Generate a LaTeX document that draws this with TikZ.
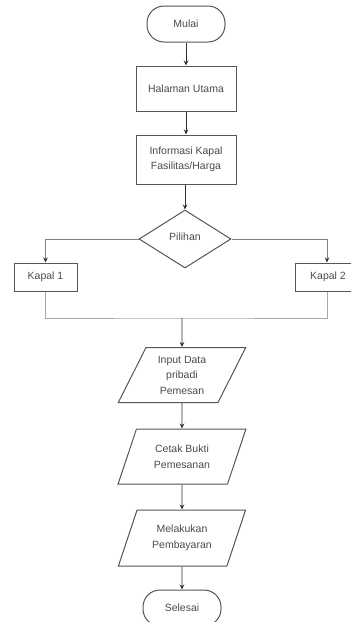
\documentclass[tikz,border=0pt]{standalone}
\usepackage{fontspec}
\setmainfont{Liberation Sans}
\usetikzlibrary{shapes.geometric,arrows.meta}
\definecolor{txt}{HTML}{4A4A4A}
\definecolor{edge}{HTML}{555555}
\definecolor{arr}{HTML}{303030}
\definecolor{lite}{HTML}{A8A8A8}
\definecolor{mid}{HTML}{808080}
\begin{document}
\begin{tikzpicture}[x=1pt,y=-1pt,
  base/.style={draw=edge,line width=1pt,text=txt,font=\fontsize{10.5}{15.5}\selectfont,align=center,inner sep=0pt},
  term/.style={base,rectangle,rounded corners=17pt,minimum width=78pt,minimum height=36pt},
  proc/.style={base,rectangle,minimum width=100pt},
  choice/.style={base,diamond,minimum width=92pt,minimum height=58pt},
  kbox/.style={base,rectangle,minimum height=28pt},
  io/.style={base,trapezium,trapezium left angle=64,trapezium right angle=116,trapezium stretches=true,minimum width=128pt},
  flow/.style={draw=arr,line width=0.9pt,-{Stealth[length=5pt,width=4.5pt]}},
  branch/.style={draw=mid,line width=0.9pt,-{Stealth[length=5pt,width=4.5pt,color=arr]}},
  mergeline/.style={draw=lite,line width=0.9pt}]
\path[use as bounding box] (0,0) rectangle (351,622);
\begin{scope}
\clip (0,0) rectangle (351,622);
\node[term] (mulai) at (186,24) {Mulai};
\node[proc,minimum height=45pt] (halaman) at (186,88.5) {Halaman Utama};
\node[proc,minimum height=49pt] (info) at (186,159.5) {Informasi Kapal\\Fasilitas/Harga};
\node[choice] (pilihan) at (185,239) {\raisebox{4pt}{Pilihan}};
\node[kbox,minimum width=63pt] (kapal1) at (45.5,277) {Kapal 1};
\node[kbox,minimum width=66pt] (kapal2) at (328,277) {Kapal 2};
\coordinate (m) at (182,318);
\node[io,minimum height=55pt] (input) at (182,375) {Input Data\\pribadi\\Pemesan};
\node[io,minimum height=55pt] (cetak) at (182,456.5) {Cetak Bukti\\Pemesanan};
\node[io,minimum height=56pt] (bayar) at (182,538) {Melakukan\\Pembayaran};
\node[term] (selesai) at (182,608) {Selesai};

\draw[flow] (mulai) -- (halaman);
\draw[flow] (halaman) -- (info);
\draw[flow] (info.south -| pilihan.north) -- (pilihan.north);
\draw[branch] (pilihan.west) -| (kapal1.north);
\draw[branch] (pilihan.east) -| ([xshift=-1pt]kapal2.north);
\draw[mergeline] (kapal1.south) |- (m) -| ([xshift=-1pt]kapal2.south);
\draw[flow] (m) -- (input.north);
\draw[flow] (input.south) -- (cetak.north);
\draw[flow] (cetak.south) -- (bayar.north);
\draw[flow] (bayar.south) -- (selesai.north);
\end{scope}
\end{tikzpicture}
\end{document}
